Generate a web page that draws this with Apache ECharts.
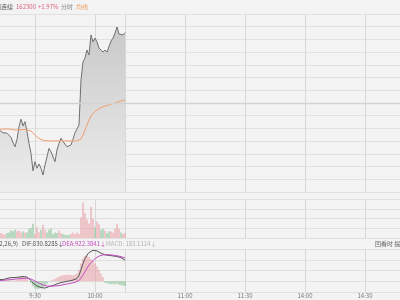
<!DOCTYPE html>
<html><head><meta charset="utf-8">
<script src="https://cdn.jsdelivr.net/npm/echarts@6/dist/echarts.min.js"></script>
<style>html,body{margin:0;padding:0;background:#f3f3f3}#c{width:400px;height:300px}</style>
</head><body><div id="c"></div>
<script>
// trading sessions (commodity futures) and axis labels
const sessions = [['9:00','10:15'],['10:30','11:30'],['13:30','15:00']];
const labelTimes = ['9:30','10:00','11:00','11:30','14:00','14:30'];
const splitTimes = ['9:30','10:00','10:15','11:00','11:30','14:00','14:30'];
const dataStart = '9:12';
const prevClose = 159187.5;

// price (minute close), from 9:12 to 10:15
const price = [157990,157920,157870,157940,157850,157900,157670,157430,157250,157580,
  158140,158470,158170,158360,157920,157400,156960,156190,156590,156300,
  156490,156300,156000,156440,156520,157180,157030,157110,156590,157110,
  157400,157630,157480,157400,157250,157290,157330,157580,157870,158040,
  158210,160210,161000,161180,161530,161310,162200,161890,162060,161890,
  161620,161530,161440,161530,161440,161440,161930,162060,162280,162550,
  162240,162280,162200,162300];
// average price line
const avgPrice = [158020,158030,158030,158040,158040,158040,158030,158010,157990,157990,
  158000,158020,158020,158020,158000,157980,157950,157860,157770,157680,
  157620,157570,157540,157520,157510,157510,157510,157510,157510,157510,
  157510,157510,157510,157510,157510,157510,157510,157510,157510,157510,
  157510,157590,157770,157990,158210,158440,158610,158720,158810,158880,
  158940,158990,159020,159050,159080,159100,159130,159160,159190,159220,
  159250,159280,159300,159320];
// volume and direction (1 up, -1 down)
const volume = [500,510,410,340,510,570,780,680,850,680,
  750,570,680,570,570,950,1030,1470,400,1100,
  570,850,1370,850,570,850,950,410,570,510,
  780,510,410,340,270,340,410,570,410,570,
  410,2100,3650,2600,1900,1500,3200,2000,1100,1700,
  1400,850,950,780,510,680,680,570,950,1470,
  950,570,410,510];
const volDir = [1,1,1,1,-1,-1,-1,-1,-1,1,
  1,1,-1,1,-1,-1,-1,-1,1,1,
  1,-1,1,1,-1,-1,-1,-1,-1,-1,
  1,1,-1,-1,-1,-1,1,1,1,1,
  1,1,1,1,1,1,1,1,-1,1,
  1,-1,-1,1,-1,-1,1,1,1,1,
  1,-1,1,1];
// MACD(12,26,9)
const dif = [67,67,67,87,107,126,146,146,146,146,
  166,186,186,186,166,107,28,-71,-150,-190,
  -229,-249,-269,-269,-249,-209,-190,-170,-130,-103,
  -75,-51,-36,-20,-4,12,28,47,67,107,
  225,462,699,897,1035,1134,1190,1222,1225,1200,
  1160,1110,1070,1045,1032,1022,1012,1002,992,978,
  962,932,890,831];
const dea = [28,28,36,43,51,59,67,75,83,91,
  99,107,115,119,119,107,87,47,8,-32,
  -71,-111,-150,-170,-190,-198,-198,-194,-186,-178,
  -170,-154,-138,-122,-107,-91,-75,-59,-43,-20,
  28,126,245,383,521,640,739,818,890,950,
  995,1025,1043,1050,1050,1046,1040,1032,1022,1008,
  992,972,950,922];
const macd = [20,-20,20,30,20,30,40,20,30,40,
  120,200,200,160,80,0,-80,-200,-280,-300,
  -300,-280,-240,-180,-100,-20,30,60,100,140,
  180,220,240,250,260,260,250,240,260,320,
  450,700,900,1000,1020,960,880,800,700,580,
  440,300,160,-60,-80,-100,-120,-100,-120,-100,
  -140,-160,-170,-183];

function toMin(t){const p=t.split(':').map(Number);return p[0]*60+p[1];}
function fmt(m){return Math.floor(m/60)+':'+String(m%60).padStart(2,'0');}
const times=[];
sessions.forEach((s,k)=>{const a=toMin(s[0]),b=toMin(s[1]);for(let m=(k===0?a:a+1);m<=b;m++)times.push(fmt(m));});
const start = times.indexOf(dataStart);
const pairs = arr => arr.map((v,k)=>[times[start+k], v]);

const RED='#e99aa0', GREEN='#7fc08d';
const FONT='"Noto Sans CJK SC", sans-serif';
const gridBase={left:-25,right:-25,containLabel:false,outerBoundsMode:'none'};
function xAx(g){
  return {type:'category',gridIndex:g,data:times,boundaryGap:false,
    axisLine:{show:false},axisTick:{show:false},
    axisLabel:{show:g===2,interval:(i,v)=>labelTimes.includes(v),fontSize:6,color:'#777',margin:1,fontFamily:FONT},
    splitLine:{show:true,interval:(i,v)=>splitTimes.includes(v),lineStyle:{color:'#d8d8d8',width:1}}};
}
function yAx(g,min,max,interval){
  return {type:'value',gridIndex:g,min,max,interval,axisLabel:{show:false},axisLine:{show:false},axisTick:{show:false},
    splitLine:{show:true,lineStyle:{color:'#e1e1e1',width:1}}};
}
const chart=echarts.init(document.getElementById('c'),null,{renderer:'canvas'});
const txt=(x,y,text,color,align)=>({type:'text',x,y,style:{text,fill:color,font:'6px '+FONT,textAlign:align||'left',textVerticalAlign:'middle'},z:10});
chart.setOption({
  animation:false,
  backgroundColor:'#f3f3f3',
  grid:[
    Object.assign({top:14,height:178},gridBase),
    Object.assign({top:199,height:39},gridBase),
    Object.assign({top:249,height:43},gridBase)
  ],
  xAxis:[xAx(0),xAx(1),xAx(2)],
  yAxis:[yAx(0,155250,163125,562.5),yAx(1,0,4000,1000),yAx(2,-425,1275,425)],
  graphic:[
    txt(13,7,'锡连续','#555','right'),
    txt(16,7,'162300','#e0607e'),
    txt(38,7,'+1.97%','#e0607e'),
    txt(61,7,'分时','#888'),
    txt(76,7,'均线','#f0a060'),
    txt(18,244,'MACD(12,26,9)','#555','right'),
    txt(22,244,'DIF:830.8285↓','#555'),
    txt(62,244,'DEA:922.3841↓','#c24cc2'),
    txt(106,244,'MACD: 183.1114↓','#b5b5b5'),
    txt(375,244,'回看时 提示','#666')
  ],
  series:[
    {type:'line',xAxisIndex:0,yAxisIndex:0,data:pairs(price),symbol:'none',z:3,
     lineStyle:{color:'#707070',width:1},
     areaStyle:{opacity:1,color:new echarts.graphic.LinearGradient(0,0,0,1,[{offset:0,color:'#c9c9c9'},{offset:1,color:'#ededed'}])},
     markLine:{silent:true,symbol:'none',label:{show:false},lineStyle:{color:'#d2d2d2',width:1.3,type:'solid'},data:[{yAxis:prevClose}]}},
    {type:'line',xAxisIndex:0,yAxisIndex:0,data:pairs(avgPrice),symbol:'none',z:4,lineStyle:{color:'#ef9f6f',width:1}},
    {type:'bar',xAxisIndex:1,yAxisIndex:1,data:pairs(volume),barWidth:1,
     itemStyle:{color:p=>volDir[p.dataIndex]>0?RED:GREEN}},
    {type:'bar',xAxisIndex:2,yAxisIndex:2,data:pairs(macd),barWidth:1,
     itemStyle:{color:p=>p.value[1]>=0?RED:GREEN}},
    {type:'line',xAxisIndex:2,yAxisIndex:2,data:pairs(dif),symbol:'none',z:4,lineStyle:{color:'#555',width:1}},
    {type:'line',xAxisIndex:2,yAxisIndex:2,data:pairs(dea),symbol:'none',z:4,lineStyle:{color:'#c24cc2',width:1}}
  ]
});
</script></body></html>
